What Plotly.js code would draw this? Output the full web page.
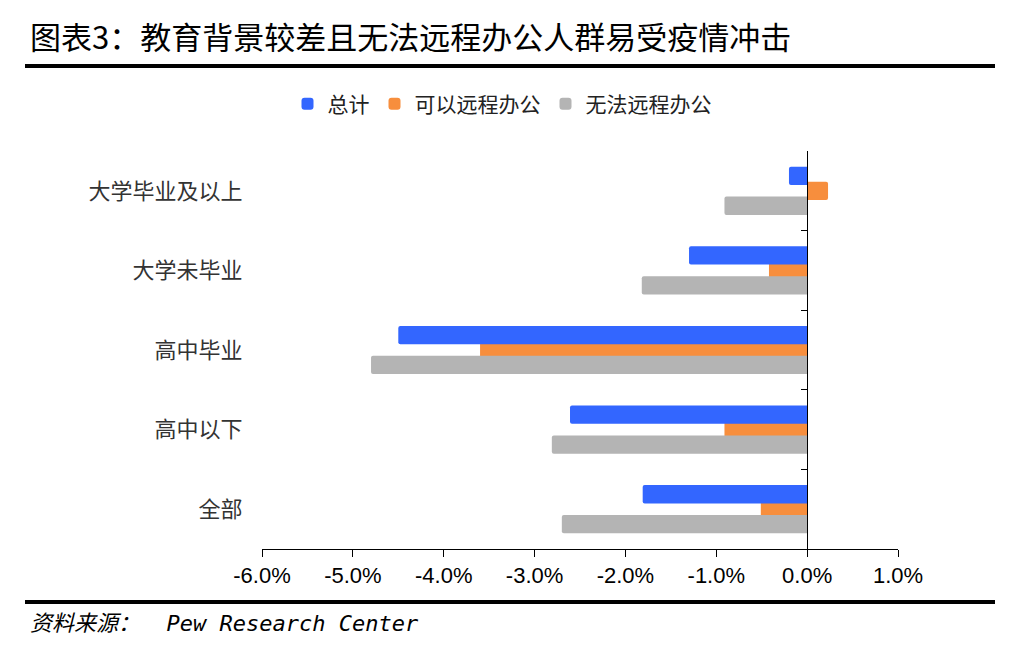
<!DOCTYPE html>
<html>
<head>
<meta charset="utf-8">
<script src="https://cdn.plot.ly/plotly-3.0.1.min.js"></script>
<style>html,body{margin:0;padding:0;background:#fff;}#chart{width:1014px;height:652px;}</style>
</head>
<body>
<div id="chart"></div>
<script>
var categories = ['大学毕业及以上', '大学未毕业', '高中毕业', '高中以下', '全部'];
var seriesNames = ['总计', '可以远程办公', '无法远程办公'];
var totalValues = [-0.20, -1.30, -4.50, -2.61, -1.81];
var remoteValues = [0.23, -0.42, -3.60, -0.91, -0.51];
var noRemoteValues = [-0.91, -1.82, -4.80, -2.81, -2.70];
var xTickValues = [-6, -5, -4, -3, -2, -1, 0, 1];
var xTickLabels = ['-6.0%', '-5.0%', '-4.0%', '-3.0%', '-2.0%', '-1.0%', '0.0%', '1.0%'];

var CJK = '"Noto Sans CJK SC", "Noto Sans", sans-serif';
var LAT = '"Liberation Sans", Arial, sans-serif';
var W = 0.23, SHIFT = 0.188;

function barTrace(name, vals, color, shift, rank, yax) {
  return {
    type: 'bar', orientation: 'h', name: name,
    x: vals, y: categories, yaxis: yax,
    width: W, offset: shift - W / 2,
    marker: {color: color, cornerradius: 2},
    legendrank: rank,
    hoverinfo: 'x+name'
  };
}

var traces = [
  barTrace(seriesNames[1], remoteValues, '#F78E3D', 0, 2, 'y'),
  barTrace(seriesNames[0], totalValues, '#3366FF', -SHIFT, 1, 'y'),
  barTrace(seriesNames[2], noRemoteValues, '#B4B4B4', SHIFT, 3, 'y2')
];

// plot area: x 262..898, y 151..549
function px(p) { return (p - 262) / 636; }
function py(p) { return (549 - p) / 398; }

var layout = {
  width: 1014, height: 652,
  margin: {l: 262, r: 116, t: 151, b: 103},
  paper_bgcolor: '#fff', plot_bgcolor: '#fff',
  barmode: 'overlay',
  showlegend: true,
  legend: {
    orientation: 'h', x: px(502), xanchor: 'center', y: py(104), yanchor: 'middle',
    font: {family: CJK, size: 21, color: '#222'},
    traceorder: 'normal', itemwidth: 30
  },
  xaxis: {
    range: [-6, 1], tickvals: xTickValues, ticktext: xTickLabels,
    showgrid: false, zeroline: true, zerolinecolor: '#000', zerolinewidth: 1,
    showline: true, linecolor: '#000', linewidth: 1,
    ticks: 'outside', ticklen: 7, tickcolor: '#000',
    tickfont: {family: LAT, size: 22, color: '#000'},
    fixedrange: true
  },
  yaxis: {
    type: 'category', categoryorder: 'array', categoryarray: categories,
    range: [4.5, -0.5], showgrid: false, zeroline: false, showline: false,
    ticks: 'outside', ticklen: 14, tickcolor: 'rgba(0,0,0,0)',
    tickfont: {family: CJK, size: 22, color: '#333'},
    fixedrange: true
  },
  yaxis2: {
    type: 'category', categoryorder: 'array', categoryarray: categories,
    overlaying: 'y', anchor: 'free', position: 6 / 7, side: 'right',
    range: [4.5, -0.5],
    showticklabels: false, showgrid: false, zeroline: false,
    showline: true, linecolor: '#000', linewidth: 1,
    ticks: 'inside', tickson: 'boundaries', ticklen: 6, tickcolor: '#000',
    fixedrange: true
  },
  shapes: [
    {type: 'line', xref: 'paper', yref: 'paper', x0: px(25), x1: px(995), y0: py(66), y1: py(66), line: {color: '#000', width: 4}},
    {type: 'line', xref: 'paper', yref: 'paper', x0: px(25), x1: px(995), y0: py(602), y1: py(602), line: {color: '#000', width: 4}}
  ],
  annotations: [
    {text: '图表3：教育背景较差且无法远程办公人群易受疫情冲击', xref: 'paper', yref: 'paper',
     x: px(28), y: py(35), xanchor: 'left', yanchor: 'middle', showarrow: false,
     font: {family: CJK, size: 31, color: '#000'}},
    {text: '<i>资料来源：  Pew Research Center</i>', xref: 'paper', yref: 'paper',
     x: px(28), y: py(623), xanchor: 'left', yanchor: 'middle', showarrow: false,
     font: {family: '"DejaVu Sans Mono", "Noto Sans CJK SC", monospace', size: 22, color: '#000'}}
  ]
};

Plotly.newPlot('chart', traces, layout, {displayModeBar: false, staticPlot: true});
</script>
</body>
</html>
